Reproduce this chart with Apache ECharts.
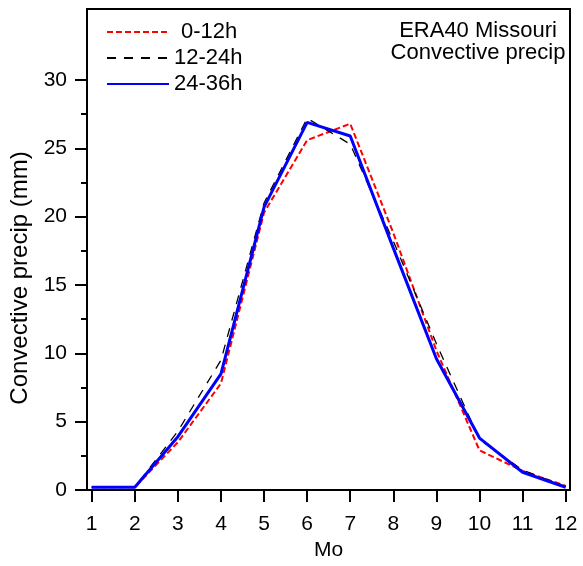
<!DOCTYPE html>
<html>
<head>
<meta charset="utf-8">
<script src="https://cdn.jsdelivr.net/npm/echarts@6/dist/echarts.min.js"></script>
<style>html,body{margin:0;padding:0;background:#fff}#c{width:583px;height:566px}</style>
</head>
<body>
<div id="c"></div>
<script>
const months = [1,2,3,4,5,6,7,8,9,10,11,12];
const seriesNames = ['0-12h', '12-24h', '24-36h'];
const v0_12  = [0.2, 0.2, 3.5, 7.8, 20.3, 25.6, 26.8, 18.8, 10.2, 2.9, 1.4, 0.3];
const v12_24 = [0.2, 0.2, 4.3, 9.5, 21.0, 27.2, 25.3, 18.2, 10.7, 3.7, 1.45, 0.25];
const v24_36 = [0.2, 0.2, 3.9, 8.5, 20.7, 26.9, 25.9, 17.7, 9.6, 3.8, 1.3, 0.2];
const yTicks = [0, 5, 10, 15, 20, 25, 30];

const pairs = arr => months.map((m, i) => [m, arr[i]]);
const font = 'Liberation Sans, Arial, sans-serif';

const chart = echarts.init(document.getElementById('c'), null, {renderer: 'canvas'});
chart.setOption({
  animation: false,
  backgroundColor: '#fff',
  title: {
    text: 'ERA40 Missouri\nConvective precip',
    left: 473, top: 15, textAlign: 'center',
    textStyle: {fontFamily: font, fontSize: 22, fontWeight: 'normal', color: '#000', lineHeight: 22, align: 'center'}
  },
  legend: {
    orient: 'vertical', left: 101, top: 16,
    itemWidth: 62, itemHeight: 12, itemGap: 4,
    data: [
      {name: seriesNames[0], textStyle: {padding: [0, 0, 0, 7]}},
      {name: seriesNames[1]},
      {name: seriesNames[2]}
    ],
    itemStyle: {color: 'transparent', borderWidth: 0, opacity: 0},
    textStyle: {fontFamily: font, fontSize: 22, color: '#000', lineHeight: 20}
  },
  grid: [
    {left: 87, top: 9, width: 483, height: 481, show: true, borderColor: '#000', borderWidth: 2, backgroundColor: 'transparent'},
    {left: 91.7, top: 80, width: 474, height: 410}
  ],
  xAxis: [
    {gridIndex: 0, type: 'value', min: 0, max: 1, show: false},
    {gridIndex: 1, type: 'value', min: 1, max: 12, interval: 1,
     name: 'Mo', nameLocation: 'middle', nameGap: 48,
     nameTextStyle: {fontFamily: font, fontSize: 21, color: '#000'},
     axisLine: {show: false},
     axisTick: {show: true, inside: false, length: 12, lineStyle: {color: '#000', width: 2}},
     axisLabel: {fontFamily: font, fontSize: 21, color: '#000', margin: 24},
     splitLine: {show: false}}
  ],
  yAxis: [
    {gridIndex: 0, type: 'value', min: 0, max: 1, show: false},
    {gridIndex: 1, type: 'value', min: yTicks[0], max: yTicks[yTicks.length - 1], interval: 5,
     offset: 4.7,
     name: 'Convective precip (mm)', nameLocation: 'middle', nameGap: 54,
     nameTextStyle: {fontFamily: font, fontSize: 24, color: '#000', padding: [0, 0, 0, 14]},
     axisLine: {show: false},
     axisTick: {show: true, inside: false, length: 12, lineStyle: {color: '#000', width: 2}},
     minorTick: {show: true, splitNumber: 2, length: 6, lineStyle: {color: '#000', width: 2}},
     axisLabel: {fontFamily: font, fontSize: 21, color: '#000', margin: 20},
     splitLine: {show: false}}
  ],
  series: [
    {name: seriesNames[0], type: 'line', xAxisIndex: 1, yAxisIndex: 1, data: pairs(v0_12),
     symbol: 'none', color: '#ff0000', clip: false,
     lineStyle: {color: '#ff0000', width: 2, type: [6, 3]}},
    {name: seriesNames[1], type: 'line', xAxisIndex: 1, yAxisIndex: 1, data: pairs(v12_24),
     symbol: 'none', color: '#000000', clip: false,
     lineStyle: {color: '#000000', width: 1.3, type: [9, 8]}},
    {name: seriesNames[2], type: 'line', xAxisIndex: 1, yAxisIndex: 1, data: pairs(v24_36),
     symbol: 'none', color: '#0000ff', clip: false,
     lineStyle: {color: '#0000ff', width: 3}}
  ]
});
</script>
</body>
</html>
